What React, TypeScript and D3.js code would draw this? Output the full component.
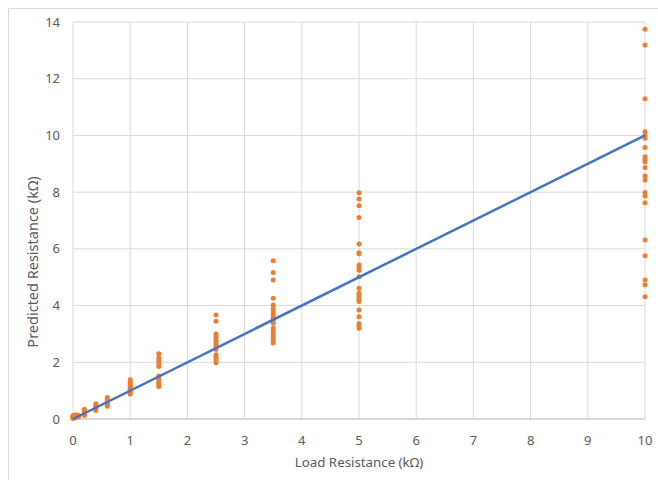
import React from "react";
import * as d3 from "d3";

const xTicks = [0, 1, 2, 3, 4, 5, 6, 7, 8, 9, 10];
const yTicks = [0, 2, 4, 6, 8, 10, 12, 14];

const x0 = [0, 0, 0, 0, 0, 0.05, 0.05, 0.05, 0.1, 0.1];
const y0 = [0.02, 0.05, 0.08, 0.1, 0.12, 0.05, 0.1, 0.15, 0.08, 0.12];
const y02 = [0.12, 0.18, 0.22, 0.26, 0.3, 0.34];
const y04 = [0.3, 0.36, 0.42, 0.48, 0.54];
const y06 = [0.45, 0.52, 0.58, 0.64, 0.7, 0.76];
const y1 = [0.88, 0.95, 1.0, 1.05, 1.1, 1.15, 1.2, 1.26, 1.32, 1.38];
const y15 = [1.15, 1.22, 1.3, 1.38, 1.45, 1.52, 1.85, 1.95, 2.05, 2.15, 2.3];
const y25 = [1.98, 2.08, 2.18, 2.27, 2.45, 2.55, 2.62, 2.7, 2.78, 2.85, 2.92, 3.0, 3.45, 3.67];
const y35 = [2.68, 2.78, 2.88, 2.98, 3.08, 3.2, 3.38, 3.48, 3.58, 3.68, 3.78, 3.88, 4.02, 4.26, 4.9, 5.17, 5.58];
const y5 = [3.2, 3.28, 3.37, 3.61, 3.84, 4.14, 4.22, 4.3, 4.38, 4.44, 4.61, 5.02, 5.25, 5.33, 5.43, 5.82, 5.86, 6.17, 7.11, 7.52, 7.76, 7.98];
const y10 = [4.31, 4.73, 4.9, 5.76, 6.31, 7.63, 7.86, 7.99, 8.43, 8.57, 8.87, 9.07, 9.15, 9.25, 9.57, 9.9, 10.0, 10.13, 11.29, 13.19, 13.74];

const fitLine = [[0, 0], [10, 10]];

const points: [number, number][] = [
  ...x0.map((x, i) => [x, y0[i]] as [number, number]),
  ...y02.map((y) => [0.2, y] as [number, number]),
  ...y04.map((y) => [0.4, y] as [number, number]),
  ...y06.map((y) => [0.6, y] as [number, number]),
  ...y1.map((y) => [1, y] as [number, number]),
  ...y15.map((y) => [1.5, y] as [number, number]),
  ...y25.map((y) => [2.5, y] as [number, number]),
  ...y35.map((y) => [3.5, y] as [number, number]),
  ...y5.map((y) => [5, y] as [number, number]),
  ...y10.map((y) => [10, y] as [number, number]),
];

const W = 658;
const H = 480;
const left = 73, right = 645, top = 22, bottom = 419;
const font = "'Noto Sans', sans-serif";
const textColor = "#595959";

export default function App() {
  const x = d3.scaleLinear().domain([0, 10]).range([left, right]);
  const y = d3.scaleLinear().domain([0, 14]).range([bottom, top]);
  const line = d3.line<number[]>().x((d) => x(d[0])).y((d) => y(d[1]));
  return (
    <svg
      width={W}
      height={H}
      style={{ display: "block", position: "fixed", left: 0, top: 0 }}
    >
      <rect x={0} y={0} width={W} height={H} fill="#fff" />
      <line x1={8.5} x2={8.5} y1={8.5} y2={H} stroke="#d9d9d9" />
      <line x1={8.5} x2={W} y1={8.5} y2={8.5} stroke="#d9d9d9" />
      {yTicks.map((t) => (
        <line key={"gy" + t} x1={left} x2={right} y1={y(t)} y2={y(t)} stroke="#d9d9d9" strokeWidth={1} />
      ))}
      {xTicks.map((t) => (
        <line key={"gx" + t} x1={x(t)} x2={x(t)} y1={top} y2={bottom} stroke="#d9d9d9" strokeWidth={1} />
      ))}
      <line x1={left} x2={right} y1={bottom} y2={bottom} stroke="#bfbfbf" strokeWidth={1} />
      {yTicks.map((t) => (
        <text key={"ty" + t} x={left - 13} y={y(t)} dy="0.35em" textAnchor="end" fontFamily={font} fontSize={13} fill={textColor}>
          {t}
        </text>
      ))}
      {xTicks.map((t) => (
        <text key={"tx" + t} x={x(t)} y={bottom + 21} dy="0.35em" textAnchor="middle" fontFamily={font} fontSize={13} fill={textColor}>
          {t}
        </text>
      ))}
      <text x={(left + right) / 2} y={bottom + 43} dy="0.35em" textAnchor="middle" fontFamily={font} fontSize={13.3} fill={textColor}>
        Load Resistance (kΩ)
      </text>
      <text transform={`translate(33,262) rotate(-90)`} dy="0.35em" textAnchor="middle" fontFamily={font} fontSize={14.5} fill={textColor}>
        Predicted Resistance (kΩ)
      </text>
      {points.map((p, i) => (
        <circle key={i} cx={x(p[0])} cy={y(p[1])} r={2.5} fill="#ED7D31" />
      ))}
      <path d={line(fitLine) || ""} fill="none" stroke="#4472C4" strokeWidth={2.5} />
    </svg>
  );
}
